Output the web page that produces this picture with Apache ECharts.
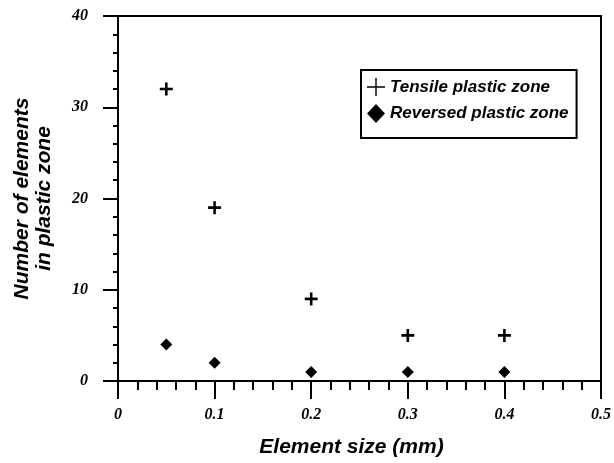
<!DOCTYPE html>
<html>
<head>
<meta charset="utf-8">
<script src="https://cdn.jsdelivr.net/npm/echarts@6/dist/echarts.min.js"></script>
<style>
html, body {margin:0; padding:0; background:#fff;}
#main {width:614px; height:463px;}
</style>
</head>
<body>
<div id="main"></div>
<script type="text/javascript">
	// element size (mm)
	var elementSize = [0.05, 0.1, 0.2, 0.3, 0.4];
	var tensileCount = [32, 19, 9, 5, 5];
	var reversedCount = [4, 2, 1, 1, 1];
	var seriesNames = ['Tensile plastic zone', 'Reversed plastic zone'];

	var plusBold = 'path://M4,0H6V4H10V6H6V10H4V6H0V4H4Z';
	var plusThin = 'path://M9.2,0H10.8V9.2H20V10.8H10.8V20H9.2V10.8H0V9.2H9.2Z';

	function pairs(xs, ys) {
		var out = [];
		for (var i = 0; i < xs.length; i++) out.push([xs[i], ys[i]]);
		return out;
	}

	var tickFont = {fontFamily:'Liberation Serif', fontStyle:'italic', fontWeight:'bold', fontSize:16, color:'#000'};
	var titleFont = {fontFamily:'Liberation Sans', fontStyle:'italic', fontWeight:'bold', fontSize:21, color:'#000'};

	var myChart = echarts.init(document.getElementById('main'));
	var option = {
		animation: false,
		backgroundColor: '#fff',
		grid: {left:118, right:12, top:16, bottom:81, show:true, borderColor:'#000', borderWidth:2, backgroundColor:'transparent'},
		legend: {
			orient: 'vertical',
			left: 361, top: 70,
			padding: [8, 8, 15, 6],
			itemGap: 8,
			itemWidth: 18, itemHeight: 19,
			borderColor: '#000', borderWidth: 2,
			data: [
				{name: seriesNames[0], icon: plusThin},
				{name: seriesNames[1], icon: 'diamond'}
			],
			textStyle: {fontFamily:'Liberation Sans', fontStyle:'italic', fontWeight:'bold', fontSize:17, color:'#000'}
		},
		xAxis: {
			type: 'value', min: 0, max: 0.5, interval: 0.1,
			name: 'Element size (mm)', nameLocation: 'middle', nameGap: 56,
			nameTextStyle: Object.assign({padding:[0, 16, 0, 0]}, titleFont),
			axisLine: {onZero:false, lineStyle:{color:'#000', width:2}},
			axisTick: {length:18, lineStyle:{color:'#000', width:2}},
			minorTick: {show:true, splitNumber:5, length:9, lineStyle:{color:'#000', width:2}},
			axisLabel: Object.assign({margin:26}, tickFont),
			splitLine: {show:false}
		},
		yAxis: {
			type: 'value', min: 0, max: 40, interval: 10,
			name: 'Number of elements\nin plastic zone', nameLocation: 'middle', nameGap: 63,
			nameTextStyle: Object.assign({lineHeight:22}, titleFont),
			axisLine: {onZero:false, lineStyle:{color:'#000', width:2}},
			axisTick: {length:15, lineStyle:{color:'#000', width:2}},
			minorTick: {show:true, splitNumber:5, length:5, lineStyle:{color:'#000', width:2}},
			axisLabel: Object.assign({margin:30}, tickFont),
			splitLine: {show:false}
		},
		series: [
			{
				name: seriesNames[0], type: 'scatter',
				symbol: plusBold, symbolSize: 13,
				itemStyle: {color:'#000', opacity:1},
				data: pairs(elementSize, tensileCount)
			},
			{
				name: seriesNames[1], type: 'scatter',
				symbol: 'diamond', symbolSize: 12,
				itemStyle: {color:'#000', opacity:1},
				data: pairs(elementSize, reversedCount)
			}
		]
	};
	myChart.setOption(option, true);
</script>
</body>
</html>
